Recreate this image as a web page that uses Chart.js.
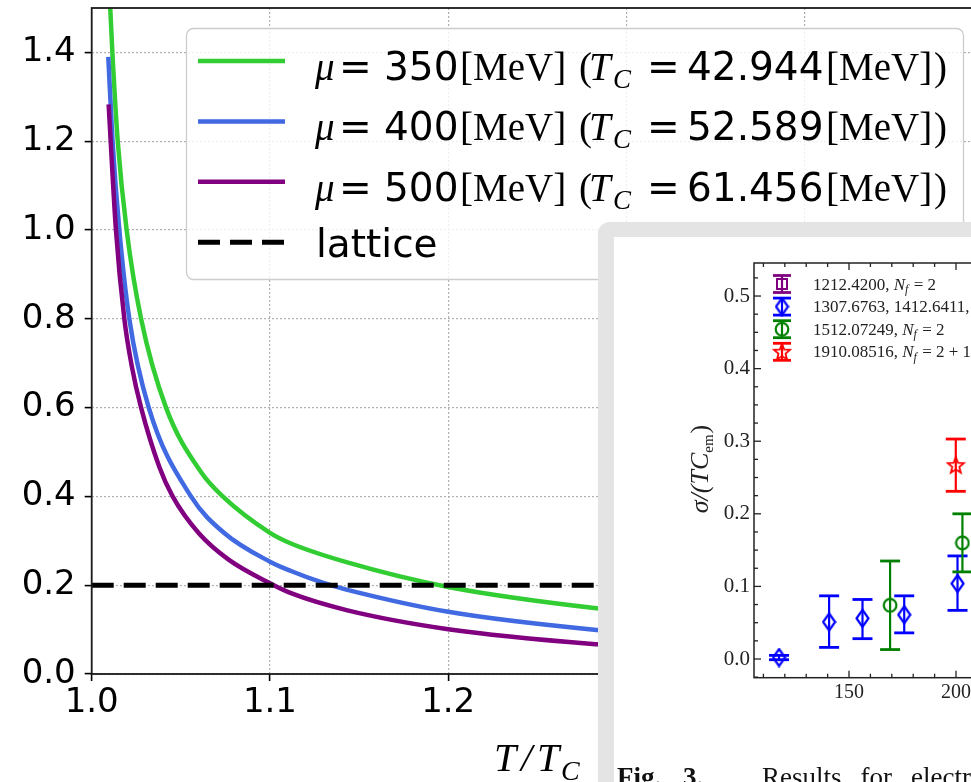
<!DOCTYPE html>
<html>
<head>
<meta charset="utf-8">
<title>Conductivity ratio versus T/T_C</title>
<script src="https://cdn.jsdelivr.net/npm/chart.js@4.4.1/dist/chart.umd.min.js"></script>
<style>
  html, body { margin: 0; padding: 0; width: 971px; height: 782px; overflow: hidden; background: #fff; }
  #mainChart { position: absolute; left: 0; top: 0; }
  #panel {
    position: absolute; left: 598px; top: 222px; width: 520px; height: 700px;
    background: #fff; box-sizing: border-box;
    border-left: 16px solid #e4e4e4; border-top: 15px solid #e4e4e4; border-top-left-radius: 12px;
  }
  #insetChart { position: absolute; left: 614px; top: 237px; }
</style>
</head>
<body>
<canvas id="mainChart" width="1000" height="782"></canvas>
<div id="panel"></div>
<canvas id="insetChart" width="470" height="560"></canvas>
<script>
// ---- main panel: model curves, sampled at T/T_C ----
const T_MU350 = [1.0095, 1.0104, 1.0116, 1.0146, 1.0196, 1.0277, 1.0417, 1.0613, 1.0735, 1.100, 1.1118, 1.1429, 1.200, 1.2832, 1.300];
const S_MU350 = [1.59,   1.50,   1.40,   1.20,   1.00,   0.80,   0.60,   0.455,  0.40,   0.318, 0.294,  0.252,  0.196, 0.148,  0.142];

const T_MU400 = [1.0093, 1.0117, 1.0155, 1.0211, 1.0320, 1.0557, 1.0745, 1.100, 1.1118, 1.130, 1.1429, 1.200, 1.2832, 1.300];
const S_MU400 = [1.39,   1.20,   1.00,   0.80,   0.60,   0.40,   0.317,  0.253, 0.232,  0.205, 0.190,  0.140, 0.099,  0.094];

const T_MU500 = [1.0095, 1.0136, 1.0183, 1.0225, 1.0277, 1.0379, 1.0454, 1.0601, 1.0770, 1.100,  1.1118, 1.1429, 1.200, 1.2832, 1.300];
const S_MU500 = [1.283,  1.00,   0.80,   0.693,  0.60,   0.467,  0.40,   0.317,  0.257,  0.2045, 0.182,  0.144,  0.101, 0.067,  0.063];

const LATTICE_T = [1.0, 1.5];
const LATTICE_S = [0.2, 0.2];

const MU_VALUES = ['350', '400', '500'];
const TC_VALUES = ['42.944', '52.589', '61.456'];

const X_TICKS = [1.0, 1.1, 1.2, 1.3, 1.4, 1.5];
const Y_TICKS = [0.0, 0.2, 0.4, 0.6, 0.8, 1.0, 1.2, 1.4];

// ---- inset: lattice results, sigma/(T C_em) versus T [MeV] ----
const REF_LABELS = ['1212.4200, N_f = 2', '1307.6763, 1412.6411, N_f = 2 + 1', '1512.07249, N_f = 2', '1910.08516, N_f = 2 + 1'];

const REF_PURPLE_T = [];
const REF_PURPLE_S = [];
const REF_PURPLE_LO = [];
const REF_PURPLE_HI = [];

const REF_BLUE_T  = [117.3, 140.7, 156.3, 175.8, 200.7];
const REF_BLUE_S  = [0.002, 0.051, 0.056, 0.061, 0.104];
const REF_BLUE_LO = [-0.001, 0.016, 0.028, 0.036, 0.067];
const REF_BLUE_HI = [0.005, 0.087, 0.082, 0.087, 0.142];

const REF_GREEN_T  = [169.2, 203.0];
const REF_GREEN_S  = [0.074, 0.160];
const REF_GREEN_LO = [0.013, 0.120];
const REF_GREEN_HI = [0.135, 0.200];

const REF_RED_T  = [199.9];
const REF_RED_S  = [0.267];
const REF_RED_LO = [0.231];
const REF_RED_HI = [0.303];

const INSET_X_TICKS = [150, 200, 250];
const INSET_Y_TICKS = [0.0, 0.1, 0.2, 0.3, 0.4, 0.5];

const SERIF = '"Liberation Serif", "DejaVu Serif", serif';
const SANS = '"DejaVu Sans", sans-serif';

function pairs(xs, ys) { return xs.map((x, i) => ({ x: x, y: ys[i] })); }
function withErrors(xs, ys, lo, hi) { return xs.map((x, i) => ({ x: x, y: ys[i], lo: lo[i], hi: hi[i] })); }
function seg(ctx, x1, y1, x2, y2) { ctx.beginPath(); ctx.moveTo(x1, y1); ctx.lineTo(x2, y2); ctx.stroke(); }

// legend text pieces: math italic symbols, sans numbers, roman units
function muRuns(mu, tc) {
  return [
    { text: 'μ', font: 'italic 39px ' + SERIF, dx: 0 },
    { text: '=', font: '39px ' + SANS, dx: 24 },
    { text: mu, font: '39px ' + SANS, dx: 69 },
    { text: '[MeV]', font: '39px ' + SERIF, dx: 145 },
    { text: '(', font: '39px ' + SERIF, dx: 264 },
    { text: 'T', font: 'italic 39px ' + SERIF, dx: 274 },
    { text: 'C', font: 'italic 27px ' + SERIF, dx: 298, dy: 8 },
    { text: '=', font: '39px ' + SANS, dx: 332 },
    { text: tc, font: '39px ' + SANS, dx: 372 },
    { text: '[MeV]', font: '39px ' + SERIF, dx: 511 },
    { text: ')', font: '39px ' + SERIF, dx: 619 }
  ];
}
function drawRuns(ctx, runs, x0, base) {
  runs.forEach(r => { ctx.font = r.font; ctx.fillText(r.text, x0 + r.dx, base + (r.dy || 0)); });
}

const frame = {
  id: 'frame',
  afterDatasetsDraw(chart) {
    const { ctx, chartArea: a } = chart;
    ctx.save();
    ctx.strokeStyle = '#1a1a1a';
    ctx.lineWidth = 1.8;
    ctx.strokeRect(a.left, a.top, a.right - a.left, a.bottom - a.top);
    ctx.restore();
  }
};

const mathLegend = {
  id: 'mathLegend',
  afterDraw(chart) {
    const ctx = chart.ctx;
    ctx.save();
    ctx.beginPath();
    ctx.roundRect(186.5, 28.5, 777, 251, 7);
    ctx.fillStyle = 'rgba(255,255,255,0.8)';
    ctx.fill();
    ctx.strokeStyle = '#cccccc';
    ctx.lineWidth = 1.3;
    ctx.stroke();
    ctx.fillStyle = '#000';
    ctx.textBaseline = 'alphabetic';
    chart.data.datasets.forEach((ds, i) => {
      const yc = 61 + i * 60.4;
      ctx.strokeStyle = ds.borderColor;
      ctx.lineWidth = ds.borderWidth;
      ctx.setLineDash(ds.borderDash || []);
      seg(ctx, 198, yc, 285, yc);
      ctx.setLineDash([]);
      if (i < MU_VALUES.length) {
        drawRuns(ctx, muRuns(MU_VALUES[i], TC_VALUES[i]), 315, yc + 19);
      } else {
        ctx.font = '39px ' + SANS;
        ctx.fillText(ds.label, 316, yc + 14.5);
      }
    });
    ctx.restore();
  }
};

const xTitle = {
  id: 'xTitle',
  afterDraw(chart) {
    const ctx = chart.ctx;
    ctx.save();
    ctx.fillStyle = '#000';
    ctx.font = 'italic 40px ' + SERIF;
    ctx.fillText('T', 494, 771);
    ctx.fillText('/', 521, 771);
    ctx.fillText('T', 537, 771);
    ctx.font = 'italic 28px ' + SERIF;
    ctx.fillText('C', 561, 780);
    ctx.restore();
  }
};

new Chart(document.getElementById('mainChart'), {
  type: 'line',
  data: {
    datasets: [
      { label: 'μ = 350[MeV] (T_C = 42.944[MeV])', data: pairs(T_MU350, S_MU350), borderColor: '#32cd32', borderWidth: 4.5, order: 3 },
      { label: 'μ = 400[MeV] (T_C = 52.589[MeV])', data: pairs(T_MU400, S_MU400), borderColor: '#4169e1', borderWidth: 4.5, order: 2 },
      { label: 'μ = 500[MeV] (T_C = 61.456[MeV])', data: pairs(T_MU500, S_MU500), borderColor: '#800080', borderWidth: 4.5, order: 1 },
      { label: 'lattice', data: pairs(LATTICE_T, LATTICE_S), borderColor: '#000000', borderWidth: 5, borderDash: [22, 10], order: 0 }
    ]
  },
  options: {
    responsive: false,
    animation: false,
    devicePixelRatio: 1,
    events: [],
    layout: { padding: { top: 8, right: 17, left: 0, bottom: 0 } },
    elements: {
      point: { radius: 0 },
      line: { cubicInterpolationMode: 'monotone', fill: false, borderJoinStyle: 'round' }
    },
    plugins: { legend: { display: false }, tooltip: { enabled: false } },
    scales: {
      x: {
        type: 'linear', min: 1.0, max: 1.5,
        afterBuildTicks: s => { s.ticks = X_TICKS.map(v => ({ value: v })); },
        afterFit: s => { s.height = 108; s.paddingLeft = 0; s.paddingRight = 0; },
        grid: { color: '#b0b0b0', lineWidth: 1.2, tickColor: '#000', tickLength: 7, tickWidth: 1.6 },
        border: { display: false, dash: [2, 2] },
        ticks: { color: '#000', font: { family: 'DejaVu Sans', size: 34 }, padding: 2, maxRotation: 0, autoSkip: false,
                 callback: v => Number(v).toFixed(1) }
      },
      y: {
        type: 'linear', min: 0, max: 1.5,
        afterBuildTicks: s => { s.ticks = Y_TICKS.map(v => ({ value: v })); },
        afterFit: s => { s.width = 91.7; s.paddingTop = 0; s.paddingBottom = 0; },
        grid: { color: '#b0b0b0', lineWidth: 1.2, tickColor: '#000', tickLength: 7, tickWidth: 1.6 },
        border: { display: false, dash: [2, 2] },
        ticks: { color: '#000', font: { family: 'DejaVu Sans', size: 34 }, padding: 9,
                 callback: v => Number(v).toFixed(1) }
      }
    }
  },
  plugins: [frame, mathLegend, xTitle]
});

// ---- inset markers ----
function markerCanvas(w, h, draw) {
  const c = document.createElement('canvas');
  c.width = w; c.height = h;
  draw(c.getContext('2d'), w, h);
  return c;
}
const SQUARE = markerCanvas(14, 14, (g, w, h) => { g.strokeStyle = '#800080'; g.lineWidth = 2; g.strokeRect(2, 2, w - 4, h - 4); });
const DIAMOND = markerCanvas(15, 20, (g, w, h) => {
  g.strokeStyle = '#0000ff'; g.lineWidth = 2.2;
  g.beginPath(); g.moveTo(w / 2, 1.5); g.lineTo(w - 1.5, h / 2); g.lineTo(w / 2, h - 1.5); g.lineTo(1.5, h / 2); g.closePath(); g.stroke();
});
const CIRCLE = markerCanvas(16, 16, (g, w, h) => {
  g.strokeStyle = '#008000'; g.lineWidth = 2.2;
  g.beginPath(); g.arc(w / 2, h / 2, 6.3, 0, Math.PI * 2); g.stroke();
});
const STAR = markerCanvas(20, 20, (g, w, h) => {
  g.strokeStyle = '#ff0000'; g.lineWidth = 1.8;
  g.beginPath();
  for (let k = 0; k < 10; k++) {
    const r = k % 2 === 0 ? 8.5 : 3.7;
    const ang = -Math.PI / 2 + k * Math.PI / 5;
    const px = w / 2 + r * Math.cos(ang), py = h / 2 + 0.6 + r * Math.sin(ang);
    if (k === 0) g.moveTo(px, py); else g.lineTo(px, py);
  }
  g.closePath(); g.stroke();
});

const errorBars = {
  id: 'errorBars',
  beforeDatasetsDraw(chart) {
    const { ctx, scales: { x, y } } = chart;
    ctx.save();
    chart.data.datasets.forEach(ds => {
      ctx.strokeStyle = ds.borderColor;
      ds.data.forEach(p => {
        const px = x.getPixelForValue(p.x);
        const top = y.getPixelForValue(p.hi), bot = y.getPixelForValue(p.lo);
        ctx.lineWidth = 2.2;
        seg(ctx, px, top, px, bot);
        ctx.lineWidth = 2.8;
        seg(ctx, px - 10, top, px + 10, top);
        seg(ctx, px - 10, bot, px + 10, bot);
      });
    });
    ctx.restore();
  }
};

const insetDecor = {
  id: 'insetDecor',
  afterDraw(chart) {
    const { ctx, chartArea: a, scales: { x, y } } = chart;
    ctx.save();
    // frame and inward ticks
    ctx.strokeStyle = '#222';
    ctx.lineWidth = 1.5;
    ctx.strokeRect(a.left, a.top, a.right - a.left, a.bottom - a.top);
    ctx.lineWidth = 1.3;
    for (let v = 110; v <= 250; v += 10) {
      const px = x.getPixelForValue(v);
      const len = v % 50 === 0 ? 7 : 4;
      seg(ctx, px, a.bottom, px, a.bottom - len);
      seg(ctx, px, a.top, px, a.top + len);
    }
    for (let k = -1; k <= 21; k++) {
      const py = y.getPixelForValue(k * 0.025);
      const len = k % 4 === 0 ? 7 : 4;
      seg(ctx, a.left, py, a.left + len, py);
      seg(ctx, a.right, py, a.right - len, py);
    }
    // legend: error-bar glyph + label
    const markers = [SQUARE, DIAMOND, CIRCLE, STAR];
    chart.data.datasets.forEach((ds, i) => {
      const yc = 47 + i * 22.6, xc = 168;
      ctx.strokeStyle = ds.borderColor;
      ctx.lineWidth = 2.2;
      seg(ctx, xc, yc - 8.5, xc, yc + 8.5);
      ctx.lineWidth = 2.8;
      seg(ctx, xc - 9, yc - 8.5, xc + 9, yc - 8.5);
      seg(ctx, xc - 9, yc + 8.5, xc + 9, yc + 8.5);
      const m = markers[i];
      ctx.drawImage(m, xc - m.width / 2, yc - m.height / 2);
      const parts = ds.label.split('N_f');
      let tx = 199;
      const base = yc + 5.5;
      ctx.fillStyle = '#222';
      ctx.font = '17px ' + SERIF;
      ctx.fillText(parts[0], tx, base); tx += ctx.measureText(parts[0]).width;
      ctx.font = 'italic 17px ' + SERIF;
      ctx.fillText('N', tx, base); tx += ctx.measureText('N').width;
      ctx.font = 'italic 12px ' + SERIF;
      ctx.fillText('f', tx, base + 3.5); tx += ctx.measureText('f').width + 1;
      ctx.font = '17px ' + SERIF;
      ctx.fillText(parts[1], tx, base);
    });
    // rotated axis title
    ctx.save();
    ctx.translate(94, 232);
    ctx.rotate(-Math.PI / 2);
    ctx.fillStyle = '#222';
    ctx.font = 'italic 26px ' + SERIF;
    const w1 = ctx.measureText('σ/(TC').width;
    ctx.font = '15px ' + SERIF;
    const w2 = ctx.measureText('em').width;
    ctx.font = '26px ' + SERIF;
    const w3 = ctx.measureText(')').width;
    let sx = -(w1 + w2 + w3 + 1) / 2;
    ctx.font = 'italic 26px ' + SERIF;
    ctx.fillText('σ/(TC', sx, 0); sx += w1;
    ctx.font = '15px ' + SERIF;
    ctx.fillText('em', sx, 5); sx += w2 + 1;
    ctx.font = '26px ' + SERIF;
    ctx.fillText(')', sx, 0);
    ctx.restore();
    // caption
    ctx.fillStyle = '#111';
    ctx.font = 'bold 27px ' + SERIF;
    ctx.fillText('Fig.', 3, 549);
    ctx.fillText('3.', 69, 549);
    ctx.font = '27px ' + SERIF;
    let cx = 148;
    ['Results', 'for', 'electrical', 'conductivity'].forEach(w => { ctx.fillText(w, cx, 549); cx += ctx.measureText(w).width + 19; });
    ctx.restore();
  }
};

new Chart(document.getElementById('insetChart'), {
  type: 'scatter',
  data: {
    datasets: [
      { label: REF_LABELS[0], data: withErrors(REF_PURPLE_T, REF_PURPLE_S, REF_PURPLE_LO, REF_PURPLE_HI), borderColor: '#800080', pointStyle: SQUARE },
      { label: REF_LABELS[1], data: withErrors(REF_BLUE_T, REF_BLUE_S, REF_BLUE_LO, REF_BLUE_HI), borderColor: '#0000ff', pointStyle: DIAMOND },
      { label: REF_LABELS[2], data: withErrors(REF_GREEN_T, REF_GREEN_S, REF_GREEN_LO, REF_GREEN_HI), borderColor: '#008000', pointStyle: CIRCLE },
      { label: REF_LABELS[3], data: withErrors(REF_RED_T, REF_RED_S, REF_RED_LO, REF_RED_HI), borderColor: '#ff0000', pointStyle: STAR }
    ]
  },
  options: {
    responsive: false,
    animation: false,
    devicePixelRatio: 1,
    events: [],
    layout: { padding: { top: 26, right: 21, left: 0, bottom: 0 } },
    elements: { point: { radius: 8, backgroundColor: 'rgba(0,0,0,0)' } },
    plugins: { legend: { display: false }, tooltip: { enabled: false } },
    scales: {
      x: {
        type: 'linear', min: 105.6, max: 250,
        afterBuildTicks: s => { s.ticks = INSET_X_TICKS.map(v => ({ value: v })); },
        afterFit: s => { s.height = 119.3; s.paddingLeft = 0; s.paddingRight = 0; },
        grid: { display: false, drawTicks: false },
        border: { display: false },
        ticks: { color: '#222', font: { family: 'Liberation Serif', size: 20 }, padding: 3, maxRotation: 0, autoSkip: false }
      },
      y: {
        type: 'linear', min: -0.02576, max: 0.5455,
        afterBuildTicks: s => { s.ticks = INSET_Y_TICKS.map(v => ({ value: v })); },
        afterFit: s => { s.width = 140; s.paddingTop = 0; s.paddingBottom = 0; },
        grid: { display: false, drawTicks: false },
        border: { display: false },
        ticks: { color: '#222', font: { family: 'Liberation Serif', size: 21 }, padding: 4,
                 callback: v => Number(v).toFixed(1) }
      }
    }
  },
  plugins: [errorBars, insetDecor]
});
</script>
</body>
</html>
